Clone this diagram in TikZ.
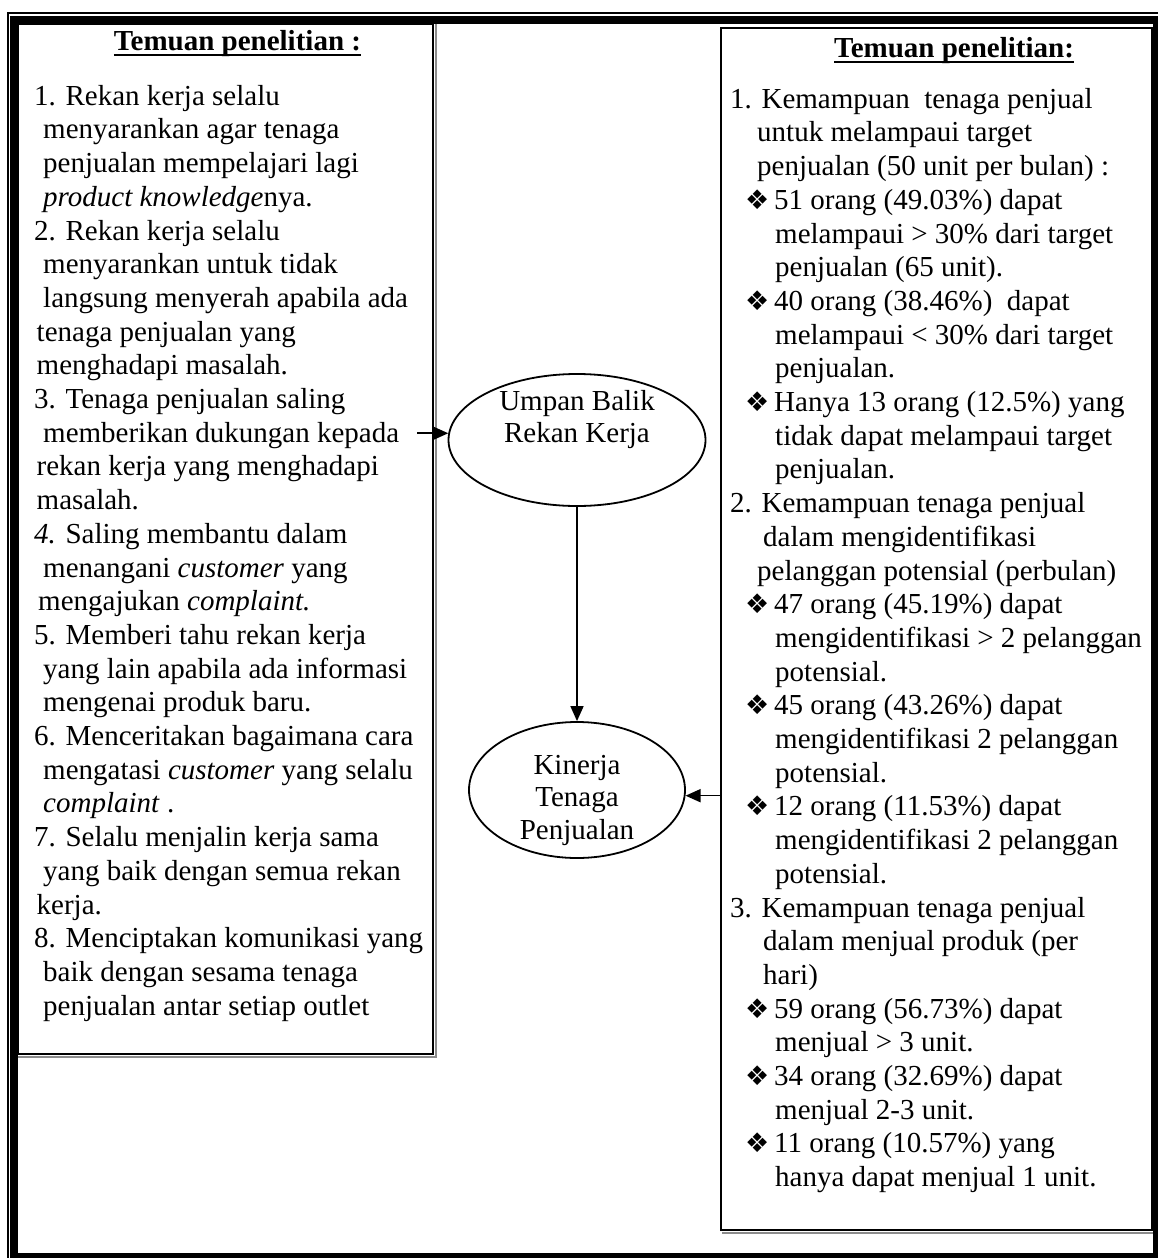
\documentclass[tikz,border=0pt]{standalone}
\usepackage{fontspec}
\setmainfont{Liberation Serif}
\newfontfamily\dejavu{DejaVu Sans}
\usetikzlibrary{shapes.geometric,arrows.meta}
\newsavebox\ulbox
\newcommand\myul[1]{\sbox\ulbox{#1}\rlap{\rule[-6pt]{\wd\ulbox}{2.5pt}}\usebox\ulbox}
\newcommand\bul{\makebox[29pt][l]{\dejavu\fontsize{27}{33.7}\selectfont ❖}}
\newcommand\LA{\hspace*{9pt}}
\newcommand\LB{\hspace*{2.5pt}}
\newcommand\RC{\hspace*{27pt}}
\newcommand\RD{\hspace*{33pt}}
\newcommand\RB{\hspace*{15pt}\bul}
\newcommand\RT{\hspace*{45pt}}
\begin{document}
\begin{tikzpicture}[x=1pt,y=-1pt,
  body/.style={font=\fontsize{29}{33.7}\selectfont, align=left, anchor=north west, inner sep=0pt},
  lab/.style={font=\fontsize{29}{32.5}\selectfont, align=center, anchor=north, inner sep=0pt},
  ttl/.style={font=\fontsize{29}{33.7}\selectfont\bfseries, anchor=base, inner sep=0pt},
  box/.style={draw, line width=2pt, inner sep=0pt},
  oval/.style={ellipse, draw, line width=1.8pt, inner sep=0pt},
  conn/.style={line width=1.6pt, -{Triangle[length=15pt,width=13pt]}},
  shade/.style={draw=black!45, line width=1.6pt}]
\useasboundingbox (0,0) rectangle (1158,1258);

% boxes
\node[box, minimum width=415.5pt, minimum height=1030.5pt] (lbox) at (225.25,538.75) {};
\draw[shade] ([shift={(1.8pt,0pt)}]lbox.north east) -- ([shift={(1.8pt,-1.8pt)}]lbox.south east) -- ([shift={(0pt,-1.8pt)}]lbox.south west);
\node[box, minimum width=431pt, minimum height=1202pt] (rbox) at (936.5,629) {};
\draw[shade] ([shift={(1.8pt,0pt)}]rbox.north east) -- ([shift={(1.8pt,-1.8pt)}]rbox.south east) -- ([shift={(1.8pt,-1.8pt)}]rbox.south west);

% outer frame
\draw[line width=2pt] (8,1258) -- (8,13) -- (1158,13);
\draw[line width=7.5pt] (13.75,19.75) rectangle (1156.75,1256.75);

% titles
\node[ttl] (ltitle) at (237.5,50) {\myul{Temuan penelitian :}};
\node[ttl] (rtitle) at (954,57) {\myul{Temuan penelitian:}};

% left text
\node[body] (ltext) at (34,81.4) {\strut 1. Rekan kerja selalu\\
\LA menyarankan agar tenaga\\
\LA penjualan mempelajari lagi\\
\LA\textit{product knowledge}nya.\\
2. Rekan kerja selalu\\
\LA menyarankan untuk tidak\\
\LA langsung menyerah apabila ada\\
\LB tenaga penjualan yang\\
\LB menghadapi masalah.\\
3. Tenaga penjualan saling\\
\LA memberikan dukungan kepada\\
\LB rekan kerja yang menghadapi\\
\LB masalah.\\
\textit{4.} Saling membantu dalam\\
\LA menangani \textit{customer} yang\\
\hspace*{4pt}mengajukan \textit{complaint.}\\
5. Memberi tahu rekan kerja\\
\LA yang lain apabila ada informasi\\
\LA mengenai produk baru.\\
6. Menceritakan bagaimana cara\\
\LA mengatasi \textit{customer} yang selalu\\
\LA\textit{complaint} .\\
7. Selalu menjalin kerja sama\\
\LA yang baik dengan semua rekan\\
\LB kerja.\\
8. Menciptakan komunikasi yang\\
\LA baik dengan sesama tenaga\\
\LA penjualan antar setiap outlet};

% right text
\node[body] (rtext) at (730,84.4) {\strut 1. Kemampuan\ \ tenaga penjual\\
\RC untuk melampaui target\\
\RC penjualan (50 unit per bulan) :\\
\RB 51 orang (49.03\%) dapat\\
\RT melampaui > 30\% dari target\\
\RT penjualan (65 unit).\\
\RB 40 orang (38.46\%)\ \ dapat\\
\RT melampaui < 30\% dari target\\
\RT penjualan.\\
\RB Hanya 13 orang (12.5\%) yang\\
\RT tidak dapat melampaui target\\
\RT penjualan.\\
2. Kemampuan tenaga penjual\\
\RD dalam mengidentifikasi\\
\RC pelanggan potensial (perbulan)\\
\RB 47 orang (45.19\%) dapat\\
\RT mengidentifikasi > 2 pelanggan\\
\RT potensial.\\
\RB 45 orang (43.26\%) dapat\\
\RT mengidentifikasi 2 pelanggan\\
\RT potensial.\\
\RB 12 orang (11.53\%) dapat\\
\RT mengidentifikasi 2 pelanggan\\
\RT potensial.\\
3. Kemampuan tenaga penjual\\
\RD dalam menjual produk (per\\
\RD hari)\\
\RB 59 orang (56.73\%) dapat\\
\RT menjual > 3 unit.\\
\RB 34 orang (32.69\%) dapat\\
\RT menjual 2-3 unit.\\
\RB 11 orang (10.57\%) yang\\
\RT hanya dapat menjual 1 unit.};

% ellipses
\node[oval, minimum width=257pt, minimum height=132pt] (u1) at (577,440) {};
\node[lab] (u1t) at (577,387.4) {\strut Umpan Balik\\Rekan Kerja};
\node[oval, minimum width=216pt, minimum height=136pt] (u2) at (577,790) {};
\node[lab] (u2t) at (577,751.4) {\strut Kinerja\\Tenaga\\Penjualan};

% connectors
\coordinate (a1) at (417,433);
\draw[conn] (a1 |- u1.177) -- (u1.177);
\draw[conn] (u1.south) -- (u2.north);
\draw[conn] (rbox.west |- u2.-3) -- (u2.-3);
\end{tikzpicture}
\end{document}
